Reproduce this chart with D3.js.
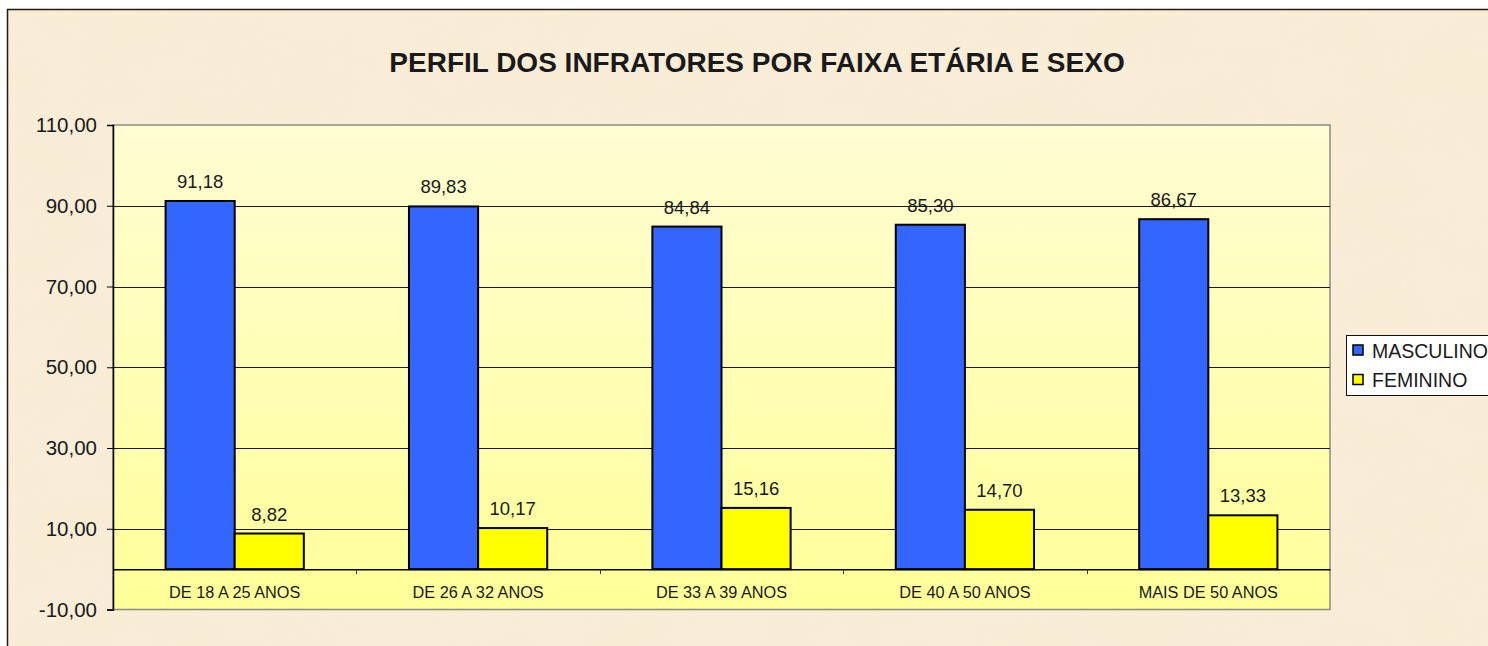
<!DOCTYPE html>
<html>
<head>
<meta charset="utf-8">
<script src="https://cdn.jsdelivr.net/npm/d3@7"></script>
<style>
  html, body { margin: 0; padding: 0; background: #ffffff; }
  svg { display: block; }
  text { font-family: "Liberation Sans", Arial, sans-serif; fill: #1a1a1a; }
</style>
</head>
<body>
<svg id="chart" width="1488" height="646"></svg>
<script>
const categories = ["DE 18 A 25 ANOS", "DE 26 A 32 ANOS", "DE 33 A 39 ANOS", "DE 40 A 50 ANOS", "MAIS DE 50 ANOS"];
const seriesNames = ["MASCULINO", "FEMININO"];
const masculino = [91.18, 89.83, 84.84, 85.30, 86.67];
const feminino = [8.82, 10.17, 15.16, 14.70, 13.33];
const yTicks = [-10, 10, 30, 50, 70, 90, 110];
const gridValues = [10, 30, 50, 70, 90];
const seriesColors = ["#3366FF", "#FFFF00"];
const titleText = "PERFIL DOS INFRATORES POR FAIXA ETÁRIA E SEXO";

const seriesValues = [masculino, feminino];
const rows = categories.map((c, i) => ({
  cat: c,
  vals: seriesNames.map((s, j) => ({ s, j, v: seriesValues[j][i] }))
}));

const locale = d3.formatLocale({ decimal: ",", thousands: ".", grouping: [3], currency: ["", ""], minus: "-" });
const fmt = locale.format(".2f");

const svg = d3.select("#chart");
const defs = svg.append("defs");

// parchment texture
const filt = defs.append("filter").attr("id", "paper").attr("x", 0).attr("y", 0).attr("width", "100%").attr("height", "100%");
filt.append("feTurbulence").attr("type", "fractalNoise").attr("baseFrequency", "0.012 0.02").attr("numOctaves", 4).attr("seed", 7).attr("result", "n");
filt.append("feColorMatrix").attr("in", "n").attr("type", "matrix")
  .attr("values", "0 0 0 0 0.93  0 0 0 0 0.82  0 0 0 0 0.62  0 0 0 0.9 -0.35");

const grad = defs.append("linearGradient").attr("id", "plotGrad").attr("x1", 0).attr("y1", 0).attr("x2", 0).attr("y2", 1);
grad.append("stop").attr("offset", "0%").attr("stop-color", "#FFFDD2");
grad.append("stop").attr("offset", "100%").attr("stop-color", "#FFFF99");

// outer chart background
svg.append("rect").attr("x", 7.5).attr("y", 9.5).attr("width", 1500).attr("height", 660)
  .attr("fill", "#F9EDD7");
svg.append("rect").attr("x", 8).attr("y", 10).attr("width", 1500).attr("height", 660)
  .attr("fill", "#000").attr("filter", "url(#paper)").attr("opacity", 0.4);
svg.append("rect").attr("x", 7.5).attr("y", 9.5).attr("width", 1500).attr("height", 660)
  .attr("fill", "none").attr("stroke", "#1a1a1a").attr("stroke-width", 1.5);

// plot geometry
const pLeft = 113, pRight = 1330, pTop = 125, pBottom = 609.5;

const y = d3.scaleLinear().domain([-10, 110]).range([pBottom, pTop]);
const x = d3.scaleBand().domain(categories).range([pLeft, pRight]).padding(0);
const bw = x.bandwidth();
const groupFrac = 0.568;
const x1 = d3.scaleBand().domain(seriesNames)
  .range([bw * (1 - groupFrac) / 2, bw * (1 + groupFrac) / 2]).padding(0);

// plot area
svg.append("rect").attr("x", pLeft).attr("y", pTop).attr("width", pRight - pLeft).attr("height", pBottom - pTop)
  .attr("fill", "url(#plotGrad)").attr("stroke", "#8a8a8a").attr("stroke-width", 1.5);

// gridlines
svg.append("g").selectAll("line").data(gridValues).join("line")
  .attr("x1", pLeft).attr("x2", pRight)
  .attr("y1", d => Math.round(y(d)) + 0.5).attr("y2", d => Math.round(y(d)) + 0.5)
  .attr("stroke", "#1a1a1a").attr("stroke-width", 1);

// bars
const groups = svg.append("g").selectAll("g").data(rows).join("g")
  .attr("transform", d => `translate(${x(d.cat)},0)`);
groups.selectAll("rect").data(d => d.vals).join("rect")
  .attr("x", d => x1(d.s))
  .attr("y", d => y(d.v))
  .attr("width", x1.bandwidth())
  .attr("height", d => y(0) - y(d.v))
  .attr("fill", d => seriesColors[d.j])
  .attr("stroke", "#000").attr("stroke-width", 2);

// value labels
groups.selectAll("text").data(d => d.vals).join("text")
  .attr("x", d => x1(d.s) + x1.bandwidth() / 2)
  .attr("y", d => y(d.v) - 13)
  .attr("text-anchor", "middle")
  .style("font-size", "18.5px")
  .text(d => fmt(d.v));

// x axis (at zero)
const xAxis = d3.axisBottom(x).tickSize(0).tickFormat(d => d);
const xg = svg.append("g").attr("transform", `translate(0,${y(0)})`).call(xAxis);
xg.select(".domain").attr("stroke", "#000").attr("stroke-width", 1.5);
xg.selectAll(".tick text").attr("dy", 0).attr("y", 29).style("font-size", "16.3px")
  .style("font-family", "'Liberation Sans', Arial, sans-serif").attr("fill", "#1a1a1a");
// category separator ticks
svg.append("g").selectAll("line").data(categories.slice(1)).join("line")
  .attr("x1", d => Math.round(x(d)) + 0.5).attr("x2", d => Math.round(x(d)) + 0.5)
  .attr("y1", y(0)).attr("y2", y(0) + 5)
  .attr("stroke", "#333").attr("stroke-width", 1);

// y axis
const yAxis = d3.axisLeft(y).tickValues(yTicks).tickSize(6).tickPadding(10).tickFormat(d => fmt(d));
const yg = svg.append("g").attr("transform", `translate(${pLeft},0)`).call(yAxis);
yg.select(".domain").attr("stroke", "#000").attr("stroke-width", 1.5);
yg.selectAll(".tick line").attr("stroke", "#000");
yg.selectAll(".tick text").style("font-size", "20.5px")
  .style("font-family", "'Liberation Sans', Arial, sans-serif").attr("fill", "#1a1a1a");

// title
svg.append("text").attr("x", 757).attr("y", 72).attr("text-anchor", "middle")
  .style("font-size", "28px").style("font-weight", "bold")
  .text(titleText);

// legend
const lg = svg.append("g");
lg.append("rect").attr("x", 1346.5).attr("y", 335.5).attr("width", 200).attr("height", 60)
  .attr("fill", "#ffffff").attr("stroke", "#111").attr("stroke-width", 1);
const items = lg.selectAll("g").data(seriesNames).join("g")
  .attr("transform", (d, i) => `translate(1353,${345 + i * 29.5})`);
items.append("rect").attr("x", 0).attr("y", 0).attr("width", 10).attr("height", 10)
  .attr("fill", (d, i) => seriesColors[i]).attr("stroke", "#000").attr("stroke-width", 1.5);
items.append("text").attr("x", 19).attr("y", 12.5).style("font-size", "19.5px").text(d => d);
</script>
</body>
</html>
